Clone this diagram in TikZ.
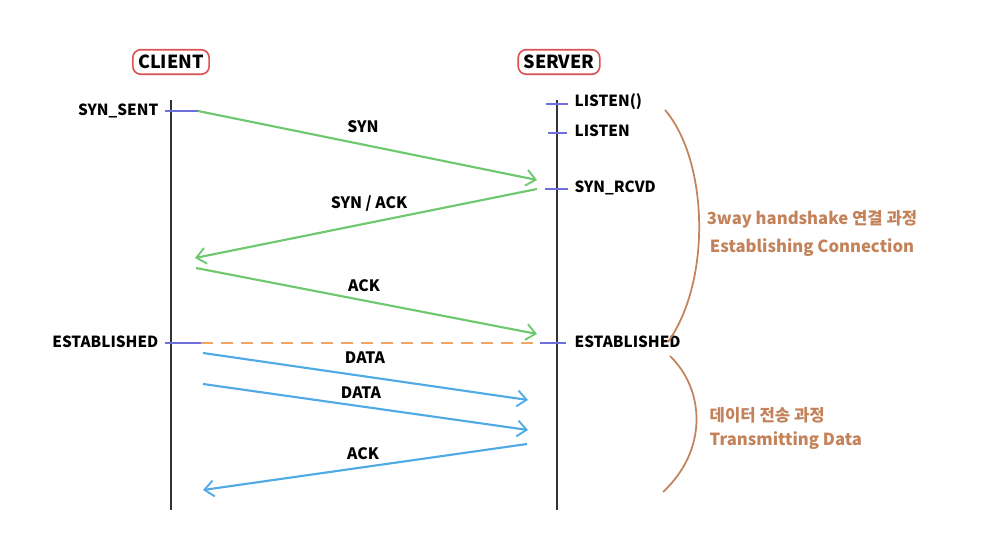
\documentclass[tikz,border=0pt]{standalone}
\usepackage{fontspec}
\setmainfont{Noto Sans CJK KR}
\newfontfamily\lbl{Noto Sans CJK KR}
\usetikzlibrary{arrows.meta}
\definecolor{gr}{RGB}{110,200,110}
\definecolor{bl}{RGB}{80,170,230}
\definecolor{tk}{RGB}{110,110,220}
\definecolor{org}{RGB}{240,165,100}
\definecolor{brn}{RGB}{195,130,90}
\definecolor{rd}{RGB}{220,80,80}
\tikzset{
  life/.style={draw=black!80,line width=1.4pt},
  tick/.style={draw=tk,line width=1.2pt},
  state/.style={font=\lbl\bfseries\fontsize{11.5}{13}\selectfont,inner sep=1pt},
  msg/.style={line width=1.6pt,-{Straight Barb[length=7pt,width=12pt,line width=1.4pt]}},
  mlbl/.style={font=\lbl\bfseries\fontsize{11.8}{13}\selectfont,inner sep=1pt},
  hdr/.style={draw=rd,line width=1.2pt,rounded corners=6pt,font=\lbl\bfseries\fontsize{13.5}{15}\selectfont,inner xsep=4pt,inner ysep=4pt},
  brc/.style={draw=brn,line width=1.3pt},
  note/.style={text=brn,font=\lbl\bfseries\fontsize{12.5}{21}\selectfont,align=center}
}
\begin{document}
\begin{tikzpicture}[x=0.75pt,y=-0.75pt]
\useasboundingbox (0,0) rectangle (1002,559);
% headers
\node[hdr] (client) at (171,62) {CLIENT};
\node[hdr] (server) at (559,62) {SERVER};
% lifelines
\coordinate (ct) at (171,100); \coordinate (cb) at (171,510);
\coordinate (st) at (557,100); \coordinate (sb) at (557,510);
\draw[life] (ct) -- (cb);
\draw[life] (st) -- (sb);
% client states
\coordinate (c1a) at (165,111); \coordinate (c1b) at (198,111);
\draw[tick] (c1a) -- (c1b);
\node[state,anchor=east] (synsent) at (160,111) {SYN\_SENT};
\coordinate (c2a) at (165,343); \coordinate (c2b) at (201,343);
\draw[tick] (c2a) -- (c2b);
\node[state,anchor=east] (estc) at (160,342) {ESTABLISHED};
% server states
\coordinate (s1a) at (546,104); \coordinate (s1b) at (568,104);
\draw[tick] (s1a) -- (s1b);
\node[state,anchor=west] (listen0) at (573,102) {LISTEN()};
\coordinate (s2a) at (548,133); \coordinate (s2b) at (567,133);
\draw[tick] (s2a) -- (s2b);
\node[state,anchor=west] (listen) at (573,131) {LISTEN};
\coordinate (s3a) at (545,189); \coordinate (s3b) at (568,189);
\draw[tick] (s3a) -- (s3b);
\node[state,anchor=west] (synrcvd) at (573,188) {SYN\_RCVD};
\coordinate (s4a) at (540,343); \coordinate (s4b) at (566,343);
\draw[tick] (s4a) -- (s4b);
\node[state,anchor=west] (ests) at (573,342) {ESTABLISHED};
% established dashed line
\draw[org,line width=1.4pt,dash pattern=on 9pt off 6pt] (c2b) -- (s4a);
% messages
\coordinate (m1s) at (198,111); \coordinate (m1e) at (537,180);
\draw[msg,gr] (m1s) -- (m1e);
\node[mlbl] (l1) at (363,127) {SYN};
\coordinate (m2s) at (537,189); \coordinate (m2e) at (195,258);
\draw[msg,gr] (m2s) -- (m2e);
\node[mlbl] (l2) at (369,204) {SYN / ACK};
\coordinate (m3s) at (196,268); \coordinate (m3e) at (537,334);
\draw[msg,gr] (m3s) -- (m3e);
\node[mlbl] (l3) at (364,286) {ACK};
\coordinate (m4s) at (203,353); \coordinate (m4e) at (528,400);
\draw[msg,bl] (m4s) -- (m4e);
\node[mlbl] (l4) at (365,358) {DATA};
\coordinate (m5s) at (203,384); \coordinate (m5e) at (528,430);
\draw[msg,bl] (m5s) -- (m5e);
\node[mlbl] (l5) at (361,393) {DATA};
\coordinate (m6s) at (527,444); \coordinate (m6e) at (203,490);
\draw[msg,bl] (m6s) -- (m6e);
\node[mlbl] (l6) at (363,454) {ACK};
% braces
\coordinate (b1t) at (665,110); \coordinate (b1b) at (668,342);
\draw[brc] (b1t) .. controls (708,160) and (712,280) .. (b1b);
\coordinate (b2t) at (670,356); \coordinate (b2b) at (663,492);
\draw[brc] (b2t) .. controls (705,390) and (708,450) .. (b2b);
% notes
\node[note] (n1) at (812,233) {3way handshake 연결 과정\\Establishing Connection};
\node[note,align=left,anchor=west,font=\lbl\bfseries\fontsize{12.5}{18}\selectfont] (n2) at (705,428) {데이터 전송 과정\\Transmitting Data};
\end{tikzpicture}
\end{document}
